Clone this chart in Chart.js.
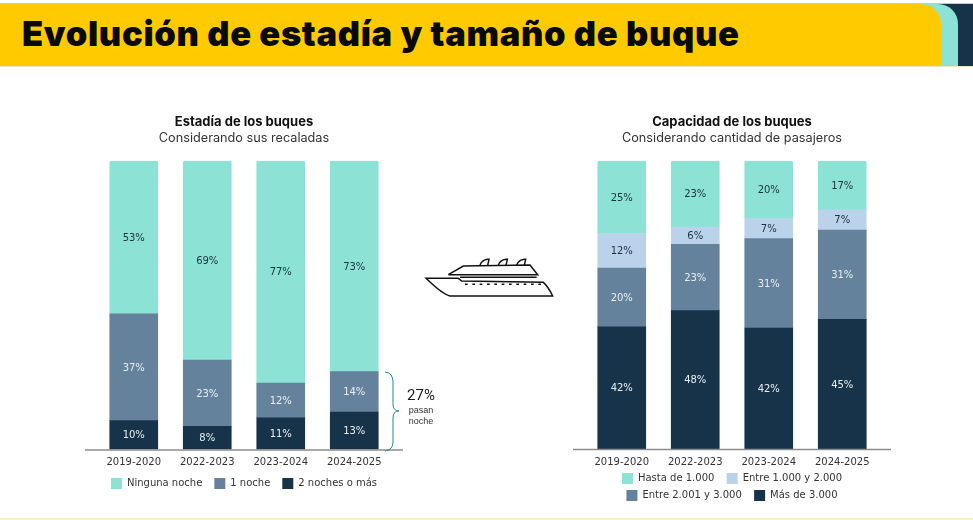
<!DOCTYPE html>
<html lang="es"><head><meta charset="utf-8">
<script src="https://cdn.jsdelivr.net/npm/chart.js@4"></script>
<style>
html,body{margin:0;padding:0;background:#fff;width:973px;height:520px;overflow:hidden}
.abs{position:absolute}
#title{left:22px;top:13px;font:900 34.5px Inter,"Liberation Sans",sans-serif;color:#0a0a0a;white-space:nowrap;letter-spacing:.68px;line-height:42px}
</style></head><body>
<div class="abs" style="left:0;top:3px;width:973px;height:1px;background:#c9c9c9"></div>
<div class="abs" style="left:900px;top:4px;width:73px;height:62px;background:#16334A"></div>
<div class="abs" style="left:0;top:4px;width:958px;height:62px;background:#8CE3D5;border-top-right-radius:20px"></div>
<div class="abs" style="left:0;top:4px;width:941px;height:62px;background:#FFCB00;border-top-right-radius:20px"></div>
<div class="abs" style="left:0;top:66px;width:973px;height:1px;background:#e8e4c8"></div>
<div class="abs" id="title">Evolución de estadía y tamaño de buque</div>
<div class="abs" style="left:0;top:518px;width:973px;height:2px;background:#f7f3c4"></div>

<canvas id="c1" class="abs" style="left:44px;top:105px" width="400" height="394"></canvas>
<canvas id="c2" class="abs" style="left:532px;top:105px" width="400" height="406"></canvas>

<svg class="abs" style="left:415px;top:250px" width="150" height="55" viewBox="0 0 450 165" fill="none" stroke="#111" stroke-width="4.5">
<path d="M33 85 L130 85 L140 93 L385 97 Q400 110 413 138 L105 138 Q85 135 33 85Z"/>
<path d="M100 74 L145 48 L345 45 L368 74 L100 74"/>
<path d="M135 82 L365 82"/>
<path d="M195 46 Q200 30 218 28 L222 28 L218 46"/>
<path d="M250 46 Q255 30 273 28 L277 28 L273 46"/>
<path d="M305 46 Q310 30 328 28 L332 28 L328 46"/>
<path d="M150 103 L378 103" stroke-dasharray="8 14"/>
</svg>

<svg class="abs" style="left:380px;top:365px" width="25" height="92" viewBox="0 0 25 92" fill="none" stroke="#1E8A96" stroke-width="1">
<path d="M5 7 Q13 8 13 17 L13 39 Q13 46 19 46 Q13 46 13 53 L13 77 Q13 85 5 86"/>
</svg>
<div class="abs" style="left:400px;top:386px;width:42px;text-align:center;font:15px Roboto,'Liberation Sans',sans-serif;color:#1a1a1a;line-height:18px">27%</div>
<div class="abs" style="left:400px;top:405px;width:42px;text-align:center;font:9px 'Liberation Sans',sans-serif;color:#333;line-height:11px">pasan<br>noche</div>

<script>
const categories = ["2019-2020","2022-2023","2023-2024","2024-2025"];
const stayLabels = ["2 noches o más","1 noche","Ninguna noche"];
const stayTwoPlus = [10,8,11,13];
const stayOne = [37,23,12,14];
const stayNone = [53,69,77,73];
const capLabels = ["Más de 3.000","Entre 2.001 y 3.000","Entre 1.000 y 2.000","Hasta de 1.000"];
const capOver3000 = [42.4,48,42,45];
const cap2001to3000 = [20.4,23,31,31];
const cap1000to2000 = [12,6,7,7];
const capUnder1000 = [25.2,23,20,17];

const DARK="#16334A",MID="#64829B",LIGHT="#BAD3EA",TEAL="#8CE3D5";
const FONT="'DejaVu Sans',Verdana,sans-serif";
const HEAD="Inter,Roboto,'Liberation Sans',sans-serif";

const barLabels={id:"barLabels",afterDatasetsDraw(chart){
  const c=chart.ctx;c.save();c.font="10px "+FONT;c.textAlign="center";c.textBaseline="middle";
  chart.data.datasets.forEach((d,i)=>{
    chart.getDatasetMeta(i).data.forEach((el,j)=>{
      c.fillStyle=d.labelColor;
      c.fillText(Math.round(d.data[j])+"%",el.x,(el.y+el.base)/2+0.8);
    });
  });
  c.restore();
}};
const baseLine={id:"baseLine",afterDatasetsDraw(chart){
  const a=chart.chartArea,c=chart.ctx;c.save();c.strokeStyle="#8c8c8c";c.lineWidth=1.5;
  c.beginPath();c.moveTo(a.left-12,a.bottom+.5);c.lineTo(a.right+12,a.bottom+.5);c.stroke();c.restore();
}};
function ds(label,data,color,labelColor,top){
  return {label,data,backgroundColor:color,borderWidth:0,labelColor,barThickness:48,
          borderRadius:top?{topLeft:2,topRight:2}:0,borderSkipped:false};
}
function make(id,title,sub,datasets,axisH,legendPad,spaced){
  const legendLabels={color:"#333",font:{family:FONT,size:10},boxWidth:11,boxHeight:11,padding:legendPad};
  if(spaced){
    legendLabels.generateLabels=function(chart){
      const items=Chart.defaults.plugins.legend.labels.generateLabels(chart);
      items.forEach((it,i)=>{ if(i===1||i===3) it.text+="\u00a0\u00a0"; });
      return items;
    };
  }
  return new Chart(document.getElementById(id),{
    type:"bar",
    data:{labels:categories,datasets},
    plugins:[barLabels,baseLine],
    options:{
      responsive:false,animation:false,devicePixelRatio:1,
      layout:{padding:{left:53,right:53,top:9,bottom:0}},
      scales:{
        x:{stacked:true,grid:{display:false,drawTicks:false},border:{display:false},
           afterFit(s){s.height=axisH;},
           ticks:{color:"#333",font:{family:FONT,size:10,lineHeight:1},padding:8,maxRotation:0}},
        y:{stacked:true,min:0,max:100,display:false}
      },
      plugins:{
        tooltip:{enabled:false},
        title:{display:true,text:title,color:"#111",font:{family:HEAD,size:13,weight:"bold"},padding:{top:0,bottom:1}},
        subtitle:{display:true,text:sub,color:"#333",font:{family:HEAD,size:12.7,weight:"normal"},padding:{top:0,bottom:15}},
        legend:{position:"bottom",reverse:true,labels:legendLabels}
      }
    }
  });
}
make("c1","Estadía de los buques","Considerando sus recaladas",[
  ds(stayLabels[0],stayTwoPlus,DARK,"#e8eef2"),
  ds(stayLabels[1],stayOne,MID,"#e8eef2"),
  ds(stayLabels[2],stayNone,TEAL,"#1c3040",true)
],16.5,12,false);
make("c2","Capacidad de los buques","Considerando cantidad de pasajeros",[
  ds(capLabels[0],capOver3000,DARK,"#e8eef2"),
  ds(capLabels[1],cap2001to3000,MID,"#e8eef2"),
  ds(capLabels[2],cap1000to2000,LIGHT,"#1c3040"),
  ds(capLabels[3],capUnder1000,TEAL,"#1c3040",true)
],18,6,true);
</script>
</body></html>
